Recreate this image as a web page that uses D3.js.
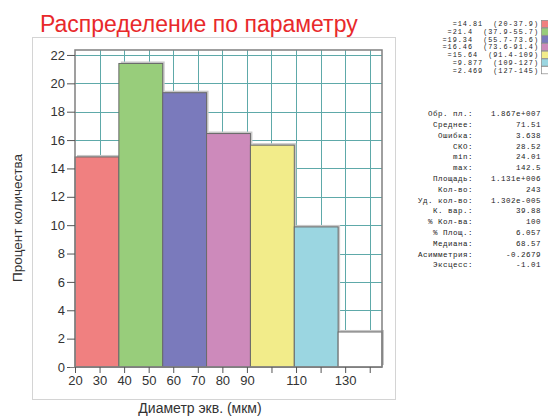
<!DOCTYPE html>
<html>
<head>
<meta charset="utf-8">
<script src="https://cdn.jsdelivr.net/npm/d3@7"></script>
<style>
  html, body { margin: 0; padding: 0; background: #fff; }
  svg { display: block; }
  .mono { font-family: "Liberation Mono", "DejaVu Sans Mono", monospace; white-space: pre; }
</style>
</head>
<body>
<script>
// Histogram bins: edges of the size classes (µm) and share of objects (%)
const binEdges = [20, 37.86, 55.71, 73.57, 91.43, 109.29, 127.14, 145];
const percentValues = [14.81, 21.4, 19.34, 16.46, 15.64, 9.877, 2.469];
const barColors = ["#f08080", "#98cd7b", "#7a7abc", "#cd8abb", "#f2ec8a", "#9bd6e1", "#ffffff"];

// Axis ticks
const xTicks = [20, 30, 40, 50, 60, 70, 80, 90, 100, 110, 120, 130, 140];
const xTickLabels = [20, 30, 40, 50, 60, 70, 80, 90, 110, 130];
const yTicks = [0, 2, 4, 6, 8, 10, 12, 14, 16, 18, 20, 22];

// Summary statistics panel
const statLabels = ["Обр. пл.:", "Среднее:", "Ошибка:", "СКО:", "min:", "max:", "Площадь:",
  "Кол-во:", "Уд. кол-во:", "К. вар.:", "% Кол-ва:", "% Площ.:", "Медиана:", "Асимметрия:", "Эксцесс:"];
const statValues = ["1.867e+007", "71.51", "3.638", "28.52", "24.01", "142.5", "1.131e+006",
  "243", "1.302e-005", "39.88", "100", "6.057", "68.57", "-0.2679", "-1.01"];

const W = 548, H = 416;
const svg = d3.select("body").append("svg").attr("width", W).attr("height", H);

const plot = { left: 75, right: 382, top: 50, bottom: 367 };
const x = d3.scaleLinear().domain([20, 145]).range([plot.left, plot.right]);
const y = d3.scaleLinear().domain([0, 22.35]).range([plot.bottom, plot.top]);

// Outer light frame around the chart panel
svg.append("rect")
  .attr("x", 32.5).attr("y", 37.5).attr("width", 363).attr("height", 362)
  .attr("fill", "none").attr("stroke", "#d4d4d4").attr("stroke-width", 1);

// Title
svg.append("text")
  .attr("x", 40).attr("y", 32)
  .attr("font-family", "Liberation Sans, Arial, sans-serif")
  .attr("font-size", 23)
  .attr("fill", "#e8292b")
  .text("Распределение по параметру");

// Grid
const grid = svg.append("g");
grid.selectAll("line.v").data(xTicks.filter(d => d > 20))
  .join("line")
  .attr("x1", d => Math.round(x(d)) + 0.5).attr("x2", d => Math.round(x(d)) + 0.5)
  .attr("y1", plot.top).attr("y2", plot.bottom)
  .attr("stroke", "#5ea9a9").attr("stroke-width", 1);
grid.selectAll("line.h").data(yTicks.filter(d => d > 0))
  .join("line")
  .attr("x1", plot.left).attr("x2", plot.right)
  .attr("y1", d => Math.round(y(d)) + 0.5).attr("y2", d => Math.round(y(d)) + 0.5)
  .attr("stroke", "#5ea9a9").attr("stroke-width", 1);

// Bars with a soft shadow
const bins = percentValues.map((v, i) => ({ lo: binEdges[i], hi: binEdges[i + 1], v, c: barColors[i] }));
svg.append("g").selectAll("rect").data(bins).join("rect")
  .attr("x", d => x(d.lo) + 2).attr("y", d => y(d.v) - 2)
  .attr("width", d => x(d.hi) - x(d.lo)).attr("height", d => plot.bottom - y(d.v))
  .attr("fill", "#c8c8c8");
svg.append("g").selectAll("rect").data(bins).join("rect")
  .attr("x", d => x(d.lo)).attr("y", d => y(d.v))
  .attr("width", d => x(d.hi) - x(d.lo)).attr("height", d => plot.bottom - y(d.v))
  .attr("fill", d => d.c)
  .attr("stroke", "#6a6a6a").attr("stroke-width", 1);

// Plot border
svg.append("rect")
  .attr("x", plot.left).attr("y", plot.top)
  .attr("width", plot.right - plot.left).attr("height", plot.bottom - plot.top)
  .attr("fill", "none").attr("stroke", "#808080").attr("stroke-width", 1.5);

// Axes
const axisFont = "Liberation Sans, Arial, sans-serif";
const yAxis = svg.append("g")
  .attr("transform", `translate(${plot.left},0)`)
  .call(d3.axisLeft(y).tickValues(yTicks).tickSize(8).tickPadding(2).tickFormat(d3.format("d")));
yAxis.select(".domain").remove();
yAxis.selectAll(".tick line").attr("stroke", "#555");
yAxis.selectAll(".tick text").attr("font-family", axisFont).attr("font-size", 13).attr("fill", "#333");

const xAxis = svg.append("g")
  .attr("transform", `translate(0,${plot.bottom})`)
  .call(d3.axisBottom(x).tickValues(xTicks).tickSize(6).tickPadding(3)
    .tickFormat(d => xTickLabels.includes(d) ? d : ""));
xAxis.select(".domain").attr("stroke", "#808080").attr("d", `M${plot.left - 5},0.5H${plot.right}`);
xAxis.selectAll(".tick line").attr("stroke", "#555");
xAxis.selectAll(".tick text").attr("font-family", axisFont).attr("font-size", 13).attr("fill", "#333");

// Axis titles
svg.append("text")
  .attr("x", 200).attr("y", 413).attr("text-anchor", "middle")
  .attr("font-family", axisFont).attr("font-size", 14).attr("fill", "#333")
  .text("Диаметр экв. (мкм)");
svg.append("text")
  .attr("transform", "translate(22,218) rotate(-90)")
  .attr("text-anchor", "middle")
  .attr("font-family", axisFont).attr("font-size", 13.5).attr("fill", "#333")
  .text("Процент количества");

// Legend: value and range of each bin with a colour swatch
const fmtRange = d3.format(".3~g");
const fmtVal = d3.format(".4~g");
const legend = svg.append("g");
const rowH = 7.7, legTop = 24;
legend.selectAll("text").data(bins).join("text")
  .attr("class", "mono")
  .attr("x", 539).attr("y", (d, i) => legTop + i * rowH)
  .attr("dy", "0.35em")
  .attr("text-anchor", "end")
  .attr("font-size", 6.8).attr("letter-spacing", 1.0).attr("fill", "#222")
  .text(d => `=${fmtVal(d.v)}  (${fmtRange(d.lo)}-${fmtRange(d.hi)})`);
legend.selectAll("rect").data(bins).join("rect")
  .attr("x", 541.5).attr("y", (d, i) => legTop + i * rowH - 3.6)
  .attr("width", 8).attr("height", 7.2)
  .attr("fill", d => d.c).attr("stroke", "#888").attr("stroke-width", 0.7);

// Statistics block
const stats = svg.append("g");
const statTop = 113.5, statH = 10.8;
stats.selectAll("text.lbl").data(statLabels).join("text")
  .attr("class", "mono lbl")
  .attr("x", 473).attr("y", (d, i) => statTop + i * statH).attr("dy", "0.35em")
  .attr("text-anchor", "end").attr("font-size", 7.5).attr("letter-spacing", 0.5).attr("fill", "#222")
  .text(d => d);
stats.selectAll("text.val").data(statValues).join("text")
  .attr("class", "mono val")
  .attr("x", 541).attr("y", (d, i) => statTop + i * statH).attr("dy", "0.35em")
  .attr("text-anchor", "end").attr("font-size", 7.5).attr("letter-spacing", 0.5).attr("fill", "#222")
  .text(d => d);
</script>
</body>
</html>
